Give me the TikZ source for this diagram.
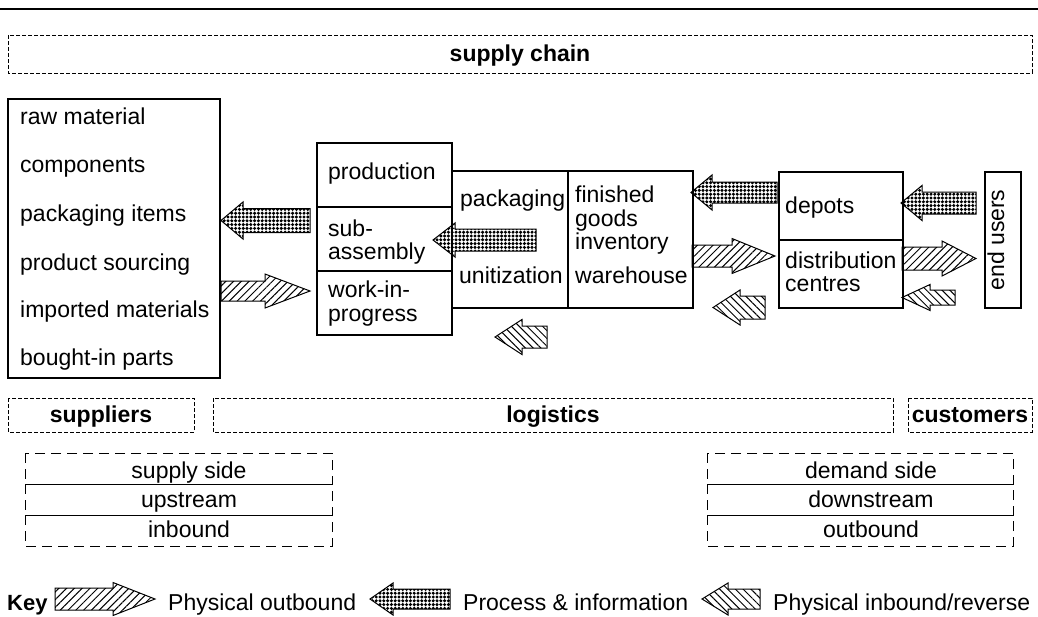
\documentclass[tikz,border=0pt]{standalone}
\usepackage{fontspec}
\setmainfont{Liberation Sans}
\usetikzlibrary{patterns.meta}
\newcommand{\blkarrow}[7]{%
  \draw[#1] (#2,#4-#5) -- (#7,#4-#5) -- (#7,#4-#6) -- (#3,#4) -- (#7,#4+#6) -- (#7,#4+#5) -- (#2,#4+#5) -- cycle;}
\tikzset{
  box/.style={draw, line width=1.2pt},
  sdash/.style={draw, line width=0.9pt, dash pattern=on 4pt off 2pt},
  ldash/.style={draw, line width=0.9pt, dash pattern=on 10pt off 6pt},
  txt/.style={font=\fontsize{23}{27}\selectfont, inner sep=0pt, anchor=base west},
  ctxt/.style={font=\fontsize{23}{27}\selectfont, inner sep=0pt, anchor=base},
  btxt/.style={font=\fontsize{23}{27}\selectfont\bfseries, inner sep=0pt, anchor=base},
  outb/.style={line width=1pt, pattern={Lines[angle=45,distance=5.5pt,line width=1pt]}},
  inb/.style={line width=1pt, pattern={Lines[angle=-45,distance=5.5pt,line width=1pt]}},
  proc/.style={line width=1pt, pattern={Dots[radius=1.7pt,distance=3.8pt]}},
}
\begin{document}
\begin{tikzpicture}[x=1pt,y=-1pt]
\useasboundingbox (0,0) rectangle (1038,616);
% top rule
\draw[line width=1.5pt] (0,9) -- (1038,9);
% supply chain
\draw[sdash] (8,35) rectangle (1032,73);
\node[btxt] (sc) at (520,61) {supply chain};
% left box
\draw[box] (8,99) rectangle (220,378);
\node[txt] (t1) at (20,124) {raw material};
\node[txt] (t2) at (20,172) {components};
\node[txt] (t3) at (20,221) {packaging items};
\node[txt] (t4) at (20,270) {product sourcing};
\node[txt] (t5) at (20,317) {imported materials};
\node[txt] (t6) at (20,365) {bought-in parts};
% production box
\draw[box] (317,143) rectangle (452,335);
\draw[box] (317,207) -- (452,207);
\draw[box] (317,271) -- (452,271);
\node[txt] (p1) at (328,179) {production};
\node[txt] (p2) at (328,236) {sub-};
\node[txt] (p3) at (328,259) {assembly};
\node[txt] (p4) at (328,297) {work-in-};
\node[txt] (p5) at (328,321) {progress};
% packaging / finished goods
\draw[box] (452,171) rectangle (693,308);
\draw[box] (568,171) -- (568,308);
\node[txt] (k1) at (460,206) {packaging};
\node[txt] (k2) at (459,283) {unitization};
\node[txt] (f1) at (575,202) {finished};
\node[txt] (f2) at (575,226) {goods};
\node[txt] (f3) at (575,249) {inventory};
\node[txt] (f4) at (575,283) {warehouse};
% depots
\draw[box] (779,172) rectangle (903,308);
\draw[box] (779,240) -- (903,240);
\node[txt] (d1) at (785,213) {depots};
\node[txt] (d2) at (785,268) {distribution};
\node[txt] (d3) at (785,291) {centres};
% end users
\draw[box] (985,172) rectangle (1021,308);
\node[ctxt, rotate=90] (eu) at (1004,240) {end users};
% arrows
\blkarrow{proc}{310}{221}{220.5}{12}{18.5}{243}
\blkarrow{outb}{221}{310}{291}{10}{17}{265}
\blkarrow{proc}{536}{433}{240}{11}{17}{455}
\blkarrow{proc}{777}{691}{192.5}{10.5}{17.5}{712}
\blkarrow{outb}{692}{775}{256}{11}{17.5}{732}
\blkarrow{inb}{765}{713}{307.5}{11.5}{17.5}{740}
\blkarrow{inb}{547}{495}{337}{11}{17.5}{522}
\blkarrow{proc}{976}{901}{203}{11}{17.5}{922}
\blkarrow{outb}{902}{976}{258.5}{11.5}{17.5}{942}
\blkarrow{inb}{955}{902}{297.5}{7.5}{13}{930}
% lower dashed labels
\draw[sdash] (8,398) rectangle (194,432);
\node[btxt] (su) at (101,422) {suppliers};
\draw[sdash] (213,398) rectangle (893,432);
\node[btxt] (lo) at (553,422) {logistics};
\draw[sdash] (908,398) rectangle (1032,432);
\node[btxt] (cu) at (970,422) {customers};
% supply side stack
\draw[ldash] (25,453) rectangle (332,484);
\draw[ldash] (25,484) rectangle (332,515);
\draw[ldash] (25,515) rectangle (332,546);
\node[ctxt] (s1) at (189,478) {supply side};
\node[ctxt] (s2) at (189,507) {upstream};
\node[ctxt] (s3) at (189,537) {inbound};
% demand side stack
\draw[ldash] (707,453) rectangle (1013,484);
\draw[ldash] (707,484) rectangle (1013,515);
\draw[ldash] (707,515) rectangle (1013,546);
\node[ctxt] (r1) at (871,478) {demand side};
\node[ctxt] (r2) at (871,507) {downstream};
\node[ctxt] (r3) at (871,537) {outbound};
% key
\node[font=\fontsize{22}{26}\selectfont\bfseries, inner sep=0pt, anchor=base west] (key) at (7,610) {Key};
\blkarrow{outb}{55}{155}{599}{11}{16.5}{113}
\node[txt] (kt1) at (168,610) {Physical outbound};
\blkarrow{proc}{450}{370}{599}{10}{16}{393}
\node[txt] (kt2) at (463,610) {Process \& information};
\blkarrow{inb}{760}{702}{599}{10}{16}{728}
\node[txt] (kt3) at (773,610) {Physical inbound/reverse};
\end{tikzpicture}
\end{document}
